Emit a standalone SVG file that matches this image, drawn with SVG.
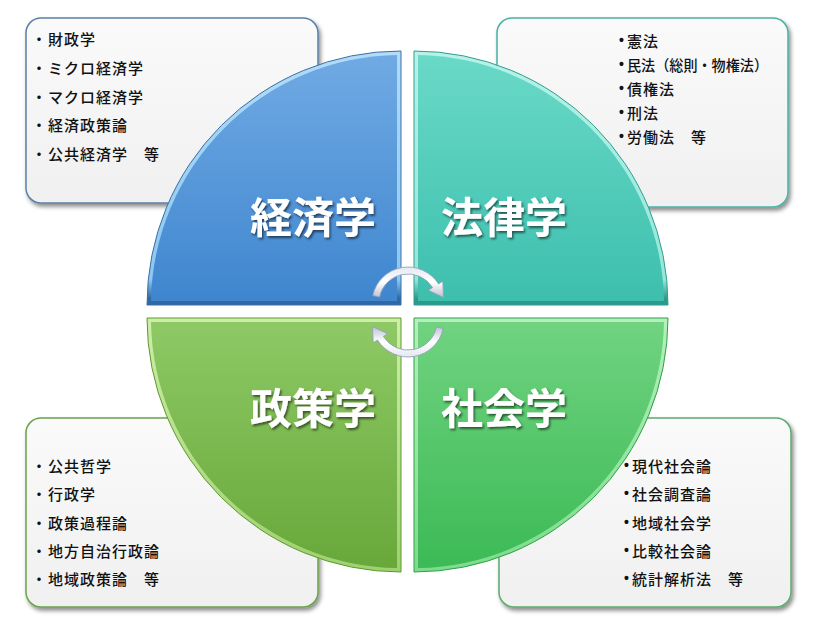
<svg xmlns="http://www.w3.org/2000/svg" width="820" height="636" viewBox="0 0 820 636">
<defs>
<style>
.box{fill:url(#boxFill);stroke-width:1.5}
.item{font-family:"Noto Sans CJK JP","Noto Sans",sans-serif;font-size:15px;font-weight:500;fill:#111;letter-spacing:1px;dominant-baseline:central}
.item2{font-family:"Noto Sans CJK JP","Noto Sans",sans-serif;font-size:15px;font-weight:500;fill:#111;dominant-baseline:central}
.dot{font-family:"Noto Sans CJK JP","Noto Sans",sans-serif;font-size:15px;font-weight:500;fill:#111;text-anchor:middle;dominant-baseline:central}
.dot2{font-family:"Liberation Sans",Arial,sans-serif;font-size:14px;font-weight:700;fill:#111;dominant-baseline:central}
.big{font-family:"Noto Sans CJK JP","Noto Sans",sans-serif;font-size:42px;font-weight:700;fill:#fff;text-anchor:middle;dominant-baseline:central}
.arrow{fill:url(#arrowFill);stroke:#95a0b8;stroke-width:0.9}
</style>
<linearGradient id="boxFill" x1="0" y1="0" x2="0" y2="1">
<stop offset="0" stop-color="#fafafa"/><stop offset="1" stop-color="#f0f0f0"/>
</linearGradient>
<filter id="shadow" x="-10%" y="-10%" width="125%" height="125%">
<feDropShadow dx="2" dy="3" stdDeviation="2" flood-color="#000" flood-opacity="0.45"/>
</filter>
<filter id="tshadow" x="-20%" y="-20%" width="140%" height="150%">
<feDropShadow dx="1.5" dy="2" stdDeviation="1.2" flood-color="#000" flood-opacity="0.55"/>
</filter>
<linearGradient id="gBlue" x1="0" y1="0" x2="0" y2="1"><stop offset="0" stop-color="#70aae4"/><stop offset="1" stop-color="#3f86cf"/></linearGradient>
<linearGradient id="fBlue" x1="0" y1="0" x2="0" y2="1"><stop offset="0" stop-color="#b2dcf8"/><stop offset="0.9" stop-color="#8cc8f0"/><stop offset="0.975" stop-color="#2f68a5"/><stop offset="1" stop-color="#2f68a5"/></linearGradient>
<linearGradient id="gTeal" x1="0" y1="0" x2="0" y2="1"><stop offset="0" stop-color="#6ad9c7"/><stop offset="1" stop-color="#3dbfae"/></linearGradient>
<linearGradient id="fTeal" x1="0" y1="0" x2="0" y2="1"><stop offset="0" stop-color="#b6f2e8"/><stop offset="0.9" stop-color="#96e6d8"/><stop offset="0.975" stop-color="#2a9a8a"/><stop offset="1" stop-color="#2a9a8a"/></linearGradient>
<linearGradient id="gLime" x1="0" y1="0" x2="0" y2="1"><stop offset="0" stop-color="#8ec965"/><stop offset="1" stop-color="#68a83a"/></linearGradient>
<linearGradient id="fLime" x1="0" y1="0" x2="0" y2="1"><stop offset="0" stop-color="#cfeea8"/><stop offset="1" stop-color="#9fd070"/></linearGradient>
<linearGradient id="gGreen" x1="0" y1="0" x2="0" y2="1"><stop offset="0" stop-color="#70d380"/><stop offset="1" stop-color="#3cba56"/></linearGradient>
<linearGradient id="fGreen" x1="0" y1="0" x2="0" y2="1"><stop offset="0" stop-color="#b4f0bc"/><stop offset="1" stop-color="#7cdc8c"/></linearGradient>
<linearGradient id="arrowFill" x1="0" y1="0" x2="0" y2="1"><stop offset="0" stop-color="#e4e8f2"/><stop offset="0.5" stop-color="#ffffff"/><stop offset="1" stop-color="#b9c1d3"/></linearGradient>
<path id="arc" d="M 372.8 295.5 A 36 36 0 0 1 438.5 283.9 L 442.8 281.3 L 443.5 297.5 L 428.4 290.3 L 432.6 287.6 A 29 29 0 0 0 379.6 297 Z"/>
</defs>
<rect width="820" height="636" fill="#fff"/>

<g id="box-economics">
<rect class="box" x="26" y="18" width="292" height="185" rx="15" stroke="#5a80a8" filter="url(#shadow)"/>
<text class="dot" x="39" y="38">・</text><text class="item" x="48" y="38">財政学</text>
<text class="dot" x="39" y="67">・</text><text class="item" x="48" y="67">ミクロ経済学</text>
<text class="dot" x="39" y="96">・</text><text class="item" x="48" y="96">マクロ経済学</text>
<text class="dot" x="39" y="124">・</text><text class="item" x="48" y="124">経済政策論</text>
<text class="dot" x="39" y="153">・</text><text class="item" x="48" y="153">公共経済学　等</text>
</g>

<g id="box-law">
<rect class="box" x="497" y="18" width="291" height="189" rx="15" stroke="#4ab0a2" filter="url(#shadow)"/>
<text class="dot2" x="619" y="40">•</text><text class="item" x="627" y="40">憲法</text>
<text class="dot2" x="619" y="64">•</text><text class="item2" x="627" y="64" textLength="141" lengthAdjust="spacingAndGlyphs">民法（総則・物権法）</text>
<text class="dot2" x="619" y="88">•</text><text class="item" x="627" y="88">債権法</text>
<text class="dot2" x="619" y="112">•</text><text class="item" x="627" y="112">刑法</text>
<text class="dot2" x="619" y="136">•</text><text class="item" x="627" y="136">労働法　等</text>
</g>

<g id="box-policy">
<rect class="box" x="26" y="418" width="292" height="189" rx="15" stroke="#6aa34c" filter="url(#shadow)"/>
<text class="dot" x="39" y="465">・</text><text class="item" x="48" y="465">公共哲学</text>
<text class="dot" x="39" y="493">・</text><text class="item" x="48" y="493">行政学</text>
<text class="dot" x="39" y="522">・</text><text class="item" x="48" y="522">政策過程論</text>
<text class="dot" x="39" y="550">・</text><text class="item" x="48" y="550">地方自治行政論</text>
<text class="dot" x="39" y="578">・</text><text class="item" x="48" y="578">地域政策論　等</text>
</g>

<g id="box-sociology">
<rect class="box" x="499" y="418" width="292" height="189" rx="15" stroke="#5caa6c" filter="url(#shadow)"/>
<text class="dot2" x="624" y="465">•</text><text class="item" x="632" y="465">現代社会論</text>
<text class="dot2" x="624" y="493">•</text><text class="item" x="632" y="493">社会調査論</text>
<text class="dot2" x="624" y="522">•</text><text class="item" x="632" y="522">地域社会学</text>
<text class="dot2" x="624" y="550">•</text><text class="item" x="632" y="550">比較社会論</text>
<text class="dot2" x="624" y="578">•</text><text class="item" x="632" y="578">統計解析法　等</text>
</g>

<g id="q-economics">
<path d="M 401 305 L 147 305 A 254 254 0 0 1 401 51 Z" fill="url(#fBlue)" stroke="#3a6ea8" stroke-width="1"/>
<path d="M 397 301 L 151 301 A 250 250 0 0 1 397 55 Z" fill="url(#gBlue)"/>
<text class="big" x="313" y="214" filter="url(#tshadow)">経済学</text>
</g>
<g id="q-law">
<path d="M 414 305 L 414 51 A 254 254 0 0 1 668 305 Z" fill="url(#fTeal)" stroke="#2e9e8e" stroke-width="1"/>
<path d="M 418 301 L 418 55 A 250 250 0 0 1 664 301 Z" fill="url(#gTeal)"/>
<text class="big" x="504" y="214" filter="url(#tshadow)">法律学</text>
</g>
<g id="q-policy">
<path d="M 401 318 L 401 572 A 254 254 0 0 1 147 318 Z" fill="url(#fLime)" stroke="#5a9a30" stroke-width="1"/>
<path d="M 397 322 L 397 568 A 250 250 0 0 1 151 322 Z" fill="url(#gLime)"/>
<text class="big" x="313" y="405" filter="url(#tshadow)">政策学</text>
</g>
<g id="q-sociology">
<path d="M 414 318 L 668 318 A 254 254 0 0 1 414 572 Z" fill="url(#fGreen)" stroke="#2f9f47" stroke-width="1"/>
<path d="M 418 322 L 664 322 A 250 250 0 0 1 418 568 Z" fill="url(#gGreen)"/>
<text class="big" x="504" y="405" filter="url(#tshadow)">社会学</text>
</g>

<g id="connectors">
<use href="#arc" class="arrow"/>
<use href="#arc" class="arrow" transform="rotate(180 408 312)"/>
</g>
</svg>
